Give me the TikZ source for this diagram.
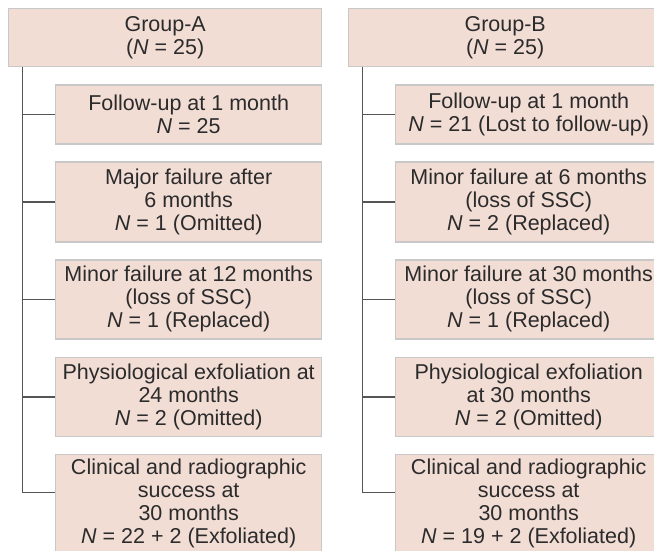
\documentclass[tikz,border=0pt]{standalone}
\usepackage{fontspec}
\setmainfont{Liberation Sans}
\usetikzlibrary{positioning}
\definecolor{boxfill}{HTML}{F2DDD5}
\definecolor{boxline}{HTML}{C8C8C8}
\definecolor{txt}{HTML}{2B2B2B}
\definecolor{wire}{HTML}{555555}
\begin{document}
\begin{tikzpicture}[
  x=1pt, y=1pt, node distance=16.5pt,
  box/.style={draw=boxline, fill=boxfill, line width=1.4pt, align=center, text=txt, inner sep=0pt,
    font=\fontsize{21.5}{23}\selectfont, minimum width=266pt},
  grp/.style={box, minimum width=313pt, minimum height=58pt},
  last/.style={box, minimum height=110pt, text depth=16pt},
  conn/.style={draw=wire, line width=1.5pt}]
\useasboundingbox (0,0) rectangle (654,-550);
% group A
\node[grp, anchor=north west] (ga) at (8,-8) {Group-A\\(\textit{N} = 25)};
\node[box, minimum height=59pt, below left=17pt and 0pt of ga.south east] (a1) {Follow-up at 1 month\\\textit{N} = 25};
\node[box, minimum height=80pt, below=of a1] (a2) {Major failure after\\6 months\\\textit{N} = 1 (Omitted)};
\node[box, minimum height=79pt, below=of a2] (a3) {Minor failure at 12 months\\(loss of SSC)\\\textit{N} = 1 (Replaced)};
\node[box, minimum height=79pt, below=17pt of a3] (a4) {Physiological exfoliation at\\24 months\\\textit{N} = 2 (Omitted)};
\node[last, below=of a4] (a5) {Clinical and radiographic\\success at\\30 months\\\textit{N} = 22 + 2 (Exfoliated)};
% group B
\node[grp, anchor=north west] (gb) at (348,-8) {Group-B\\(\textit{N} = 25)};
\node[box, minimum height=59pt, below left=17pt and 0pt of gb.south east] (b1) {Follow-up at 1 month\\\textit{N} = 21 (Lost to follow-up)};
\node[box, minimum height=80pt, below=of b1] (b2) {Minor failure at 6 months\\(loss of SSC)\\\textit{N} = 2 (Replaced)};
\node[box, minimum height=79pt, below=of b2] (b3) {Minor failure at 30 months\\(loss of SSC)\\\textit{N} = 1 (Replaced)};
\node[box, minimum height=79pt, below=17pt of b3] (b4) {Physiological exfoliation\\at 30 months\\\textit{N} = 2 (Omitted)};
\node[last, below=of b4] (b5) {Clinical and radiographic\\success at\\30 months\\\textit{N} = 19 + 2 (Exfoliated)};
% connectors
\coordinate (ta) at ([xshift=14.5pt]ga.south west);
\coordinate (tb) at ([xshift=14.5pt]gb.south west);
\draw[conn] (ta) |- ([yshift=-39pt]a5.north west);
\draw[conn] (tb) |- ([yshift=-39pt]b5.north west);
\foreach \i in {1,...,4} {
  \draw[conn] (ta |- a\i.west) -- (a\i.west);
  \draw[conn] (tb |- b\i.west) -- (b\i.west);
}
\end{tikzpicture}
\end{document}
